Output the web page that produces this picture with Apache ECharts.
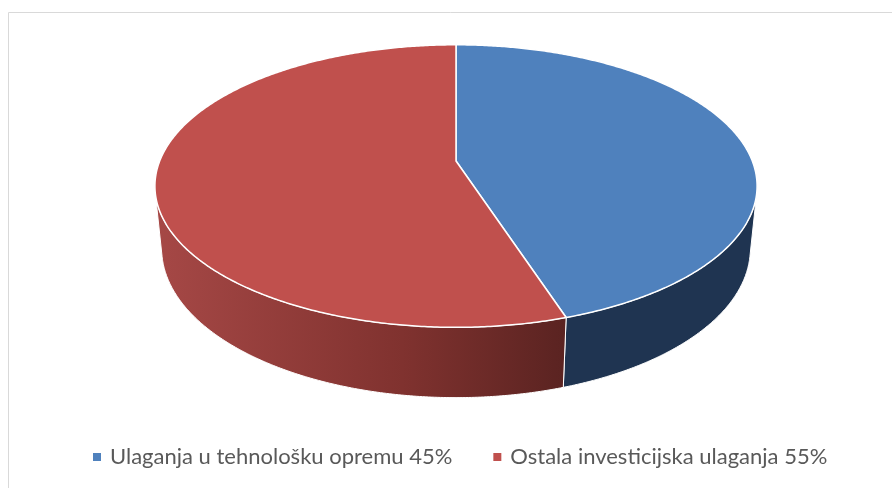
<!DOCTYPE html>
<html>
<head>
<meta charset="utf-8">
<script src="https://cdn.jsdelivr.net/npm/echarts@6/dist/echarts.min.js"></script>
<style>
  html, body { margin: 0; padding: 0; background: #fff; }
  #chart { width: 892px; height: 488px; }
</style>
</head>
<body>
<div id="chart"></div>
<script>
// data
const categories = ["Ulaganja u tehnološku opremu", "Ostala investicijska ulaganja"];
const values = [45, 55];

// look
const topColors = ["#4F81BD", "#C0504D"];
const sideColors = [
  "#1F3451",
  { type: "linear", x: 0, y: 0, x2: 1, y2: 0,
    colorStops: [{ offset: 0, color: "#A64846" }, { offset: 0.6, color: "#80322F" }, { offset: 1, color: "#5A2321" }] }
];

const total = values.reduce((a, b) => a + b, 0);

// 3d view: tilted disc with a bit of perspective
const cx = 456, cy = 161, scale = 296.3;
const tilt = 27.5 * Math.PI / 180;
const dist = 5.0, thick = 0.24;
const st = Math.sin(tilt), ct = Math.cos(tilt);

function proj(t, y) {
  let X = Math.sin(t), Z = Math.cos(t);
  let u = Z * st + y * ct;
  let w = 1 + (Z * ct - y * st) / dist;
  return [cx + scale * X / w, cy - scale * u / w];
}
function arc(a, b, y) {
  let pts = [];
  let n = Math.max(2, Math.ceil(Math.abs(b - a) / (Math.PI / 360)));
  for (let i = 0; i <= n; i++) pts.push(proj(a + (b - a) * i / n, y));
  return pts;
}
// side of the cylinder that faces the viewer
const silA = Math.acos(-1 / (dist * ct));

let myChart = echarts.init(document.getElementById("chart"));

let starts = [];
values.reduce((acc, v, i) => { starts[i] = acc; return acc + v; }, 0);

let series = categories.map((name, i) => {
  return {
    name: name,
    type: "custom",
    coordinateSystem: "none",
    itemStyle: { color: topColors[i] },
    data: [[starts[i], values[i]]],
    renderItem: function (params, api) {
      let a0 = api.value(0) / total * Math.PI * 2;
      let a1 = (api.value(0) + api.value(1)) / total * Math.PI * 2;
      let children = [];
      let s = Math.max(a0, silA), e = Math.min(a1, Math.PI * 2 - silA);
      if (e > s) {
        children.push({
          type: "polygon",
          z2: 1,
          shape: { points: arc(s, e, 0).concat(arc(e, s, -thick)) },
          style: { fill: sideColors[i], stroke: "#fff", lineWidth: 1 }
        });
      }
      children.push({
        type: "polygon",
        z2: 10,
        shape: { points: [[cx, cy]].concat(arc(a0, a1, 0)) },
        style: { fill: topColors[i], stroke: "#fff", lineWidth: 1.5, lineJoin: "round" }
      });
      return { type: "group", children: children };
    }
  };
});

let option = {
  animation: false,
  graphic: [
    {
      type: "rect",
      shape: { x: 8.5, y: 12.5, width: 920, height: 520 },
      style: { fill: "none", stroke: "#D9D9D9", lineWidth: 1 },
      z: 0
    }
  ],
  legend: {
    top: 440,
    left: 88,
    icon: "rect",
    itemWidth: 8,
    itemHeight: 8,
    itemGap: 41,
    data: categories,
    formatter: function (name) {
      return name + " " + values[categories.indexOf(name)] + "%";
    },
    textStyle: {
      fontFamily: "Lato",
      fontSize: 22,
      lineHeight: 24,
      color: "#595959",
      padding: [0, 0, 0, 4]
    }
  },
  series: series
};
myChart.setOption(option);
window.addEventListener("resize", function () {
  myChart.resize();
});
</script>
</body>
</html>
